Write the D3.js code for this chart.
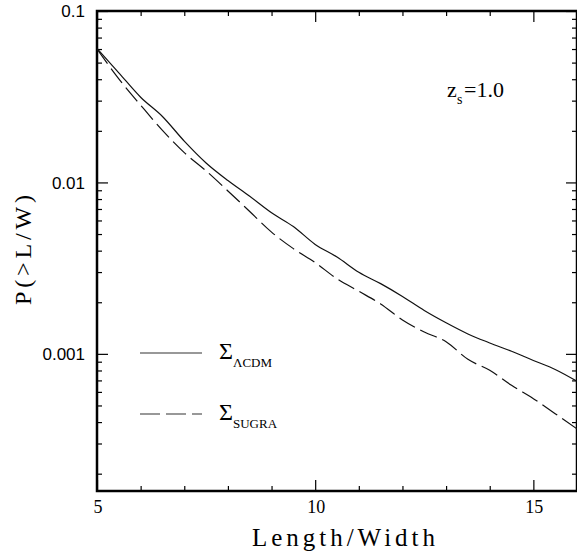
<!DOCTYPE html>
<html>
<head>
  <meta charset='utf-8'>
  <title>P(>L/W)</title>
  <script src='https://cdn.jsdelivr.net/npm/d3@7/dist/d3.min.js'></script>
  <style>
    body { margin: 0; background: #fff; }
    svg { display: block; }
  </style>
</head>
<body>
  <script type='text/javascript'>
    // values
    const lengthWidth = [5, 5.5, 6, 6.5, 7, 7.5, 8, 8.5, 9, 9.5, 10, 10.5, 11, 11.5, 12, 12.5, 13, 13.5, 14, 14.5, 15, 15.5, 16];
    const pLCDM = [0.0605, 0.0436, 0.0314, 0.02425, 0.01742, 0.01299, 0.01026, 0.0083, 0.00665, 0.00553, 0.00435, 0.00367,
      0.00299, 0.002568, 0.002162, 0.00179, 0.001518, 0.001307, 0.001158, 0.001035, 0.000915, 0.000811, 0.000692];
    const pSUGRA = [0.060, 0.0402, 0.02824, 0.02011, 0.01492, 0.01168, 0.00892, 0.00677, 0.00513, 0.00411, 0.00341, 0.00274,
      0.002318, 0.001956, 0.001578, 0.001341, 0.001177, 0.000929, 0.000802, 0.000655, 0.000548, 0.000448, 0.000365];
    const xMajorTicks = [5, 10, 15];
    const xMinorTicks = [6, 7, 8, 9, 11, 12, 13, 14, 16];
    const yMajorTicks = [0.1, 0.01, 0.001];
    const yTickLabels = ['0.1', '0.01', '0.001'];

    const width = 577;
    const height = 556;
    const margin = { top: 11, right: 0, bottom: 65, left: 97 };
    const innerWidth = width - margin.left - margin.right;
    const innerHeight = height - margin.top - margin.bottom;

    const x = d3.scaleLinear().domain([5, 16]).range([0, innerWidth]);
    const y = d3.scaleLog().domain([Math.pow(10, -3.8), 0.1]).range([innerHeight, 0]);

    // minor log ticks 2..9 in each decade
    const yMinorTicks = [];
    [-4, -3, -2].forEach(e => {
      for (let m = 2; m <= 9; m++) {
        const v = m * Math.pow(10, e);
        if (v >= y.domain()[0] && v < 0.1) yMinorTicks.push(v);
      }
    });

    const svg = d3.select('body').append('svg')
      .attr('width', width)
      .attr('height', height);

    const g = svg.append('g')
      .attr('transform', `translate(${margin.left},${margin.top})`);

    g.append('clipPath').attr('id', 'plotClip')
      .append('rect').attr('width', innerWidth).attr('height', innerHeight);

    // ticks, all pointing inward
    function ticks(axis, values, size, transform) {
      g.append('g')
        .attr('transform', transform || null)
        .call(axis.tickValues(values).tickSize(size).tickFormat(''))
        .call(s => s.select('.domain').remove())
        .call(s => s.selectAll('text').remove())
        .selectAll('line').attr('stroke', '#000').attr('stroke-width', 1.2);
    }
    ticks(d3.axisTop(x), xMajorTicks, 11, `translate(0,${innerHeight})`);
    ticks(d3.axisTop(x), xMinorTicks, 5, `translate(0,${innerHeight})`);
    ticks(d3.axisBottom(x), xMajorTicks, 11);
    ticks(d3.axisBottom(x), xMinorTicks, 5);
    ticks(d3.axisRight(y), yMajorTicks, 11);
    ticks(d3.axisRight(y), yMinorTicks, 5);
    ticks(d3.axisLeft(y), yMajorTicks, 11, `translate(${innerWidth},0)`);
    ticks(d3.axisLeft(y), yMinorTicks, 5, `translate(${innerWidth},0)`);

    // frame
    g.append('rect')
      .attr('width', innerWidth)
      .attr('height', innerHeight)
      .attr('fill', 'none')
      .attr('stroke', '#000')
      .attr('stroke-width', 2.5);

    // tick labels
    g.append('g')
      .attr('font-family', "'Liberation Sans', Arial, sans-serif")
      .attr('font-size', 17)
      .attr('text-anchor', 'end')
      .selectAll('text')
      .data(yMajorTicks)
      .join('text')
      .attr('x', -12)
      .attr('y', d => y(d))
      .attr('dy', '0.36em')
      .text((d, i) => yTickLabels[i]);

    g.append('g')
      .attr('font-family', "'Liberation Serif', serif")
      .attr('font-size', 18)
      .attr('text-anchor', 'middle')
      .selectAll('text')
      .data(xMajorTicks)
      .join('text')
      .attr('x', d => x(d) + 1)
      .attr('y', innerHeight + 22)
      .text(d => d);

    // curves
    const line = d3.line()
      .x((d, i) => x(lengthWidth[i]))
      .y(d => y(d))
      .curve(d3.curveMonotoneX);

    const curves = g.append('g')
      .attr('clip-path', 'url(#plotClip)')
      .attr('fill', 'none')
      .attr('stroke', '#111')
      .attr('stroke-width', 1.2);

    curves.append('path').attr('d', line(pLCDM));
    curves.append('path').attr('d', line(pSUGRA)).attr('stroke-dasharray', '18,6');

    // legend
    const legend = g.append('g')
      .attr('font-family', "'Liberation Serif', serif");
    const legendItems = [
      { y: 342, dash: null, sub: 'ΛCDM' },
      { y: 403, dash: '20,6', sub: 'SUGRA' }
    ];
    legendItems.forEach(item => {
      legend.append('line')
        .attr('x1', 43).attr('x2', 105)
        .attr('y1', item.y).attr('y2', item.y)
        .attr('stroke', '#333')
        .attr('stroke-width', 1.2)
        .attr('stroke-dasharray', item.dash);
      legend.append('text')
        .attr('x', 122)
        .attr('y', item.y + 6)
        .attr('font-size', 24)
        .text('Σ');
      legend.append('text')
        .attr('x', 136)
        .attr('y', item.y + 14)
        .attr('font-size', 13)
        .text(item.sub);
    });

    // z_s label
    const zLabel = g.append('g')
      .attr('font-family', "'Liberation Serif', serif")
      .attr('font-size', 22);
    zLabel.append('text').attr('x', 350).attr('y', 86).text('z');
    zLabel.append('text').attr('x', 360).attr('y', 93).attr('font-size', 14).text('s');
    zLabel.append('text').attr('x', 367).attr('y', 86).text('=1.0');

    // axis titles
    svg.append('text')
      .attr('x', 252)
      .attr('y', 546)
      .attr('font-family', "'Liberation Serif', serif")
      .attr('font-size', 25)
      .attr('textLength', 183)
      .attr('lengthAdjust', 'spacing')
      .text('Length/Width');

    svg.append('text')
      .attr('transform', `translate(31,305) rotate(-90)`)
      .attr('font-family', "'Liberation Serif', serif")
      .attr('font-size', 24)
      .attr('textLength', 110)
      .attr('lengthAdjust', 'spacing')
      .text('P(>L/W)');
  </script>
</body>
</html>
